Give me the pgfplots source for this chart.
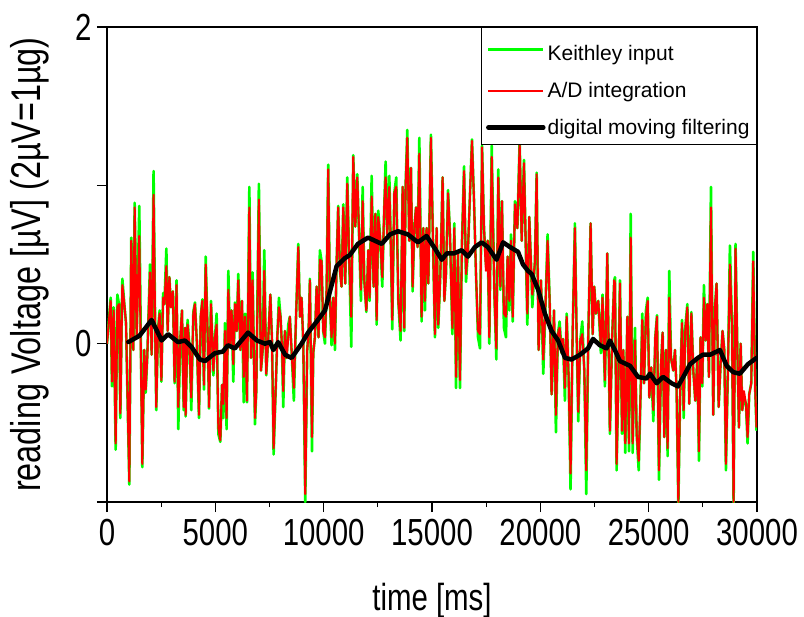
\documentclass[border=0pt]{standalone}
\usepackage{fontspec}
\setmainfont{Liberation Sans}
\newfontfamily\narrowfont[FakeStretch=0.78]{Liberation Sans}
\usepackage{pgfplots}
\usepackage{pgfplotstable}
\pgfplotsset{compat=1.18}

\definecolor{keithley}{RGB}{0,255,0}
\definecolor{adred}{RGB}{255,0,0}

% time [ms], Keithley input, A/D integration
\pgfplotstableread{
x k a
0 0.00 0.00
170 0.29 0.27
230 -0.27 -0.24
308 0.23 0.21
400 -0.67 -0.63
477 0.31 0.23
554 0.25 0.25
615 -0.47 -0.44
708 0.41 0.37
800 0.25 0.25
877 0.13 0.13
1030 -0.89 -0.87
1120 0.67 0.65
1215 -0.04 -0.04
1277 0.89 0.86
1370 0.04 0.04
1490 0.87 0.68
1630 -0.78 -0.76
1720 -0.04 -0.04
1785 -0.31 -0.29
1860 -0.08 -0.08
1985 0.50 0.45
2060 -0.07 -0.07
2150 1.09 0.94
2230 0.00 0.00
2275 -0.42 -0.40
2350 0.08 0.08
2430 0.21 0.19
2510 -0.24 -0.23
2590 0.32 0.29
2650 0.25 0.25
2740 0.60 0.49
2800 0.08 0.08
2880 0.42 0.42
2950 0.23 0.23
3040 0.33 0.33
3120 -0.25 -0.24
3210 0.40 0.37
3290 -0.54 -0.40
3380 0.02 0.02
3460 0.21 0.21
3540 -0.42 -0.40
3610 0.10 0.10
3630 -0.46 -0.45
3720 0.15 0.12
3815 -0.04 -0.04
3890 -0.42 -0.34
3985 0.20 0.19
4060 0.26 0.25
4150 0.00 0.00
4245 -0.47 -0.45
4325 0.17 0.17
4400 0.28 0.27
4475 -0.29 -0.26
4555 0.55 0.50
4645 0.06 0.06
4710 -0.41 -0.40
4800 0.27 0.25
4910 -0.20 -0.17
4985 0.04 0.04
5060 0.19 0.12
5140 -0.57 -0.53
5230 -0.62 -0.61
5310 -0.26 -0.26
5370 -0.47 -0.38
5445 0.13 0.08
5520 -0.54 -0.47
5600 0.46 0.34
5680 0.00 0.00
5750 0.21 0.21
5830 -0.24 -0.13
5905 0.26 0.25
5985 0.08 0.08
6060 0.44 0.40
6155 -0.04 -0.04
6230 0.27 0.27
6310 -0.37 -0.21
6370 0.19 0.17
6460 -0.37 -0.36
6570 0.99 0.86
6645 -0.09 -0.09
6720 0.45 0.40
6830 -0.51 -0.47
6890 -0.30 -0.30
7010 1.01 0.91
7105 -0.17 -0.17
7185 -0.04 -0.04
7260 0.59 0.46
7350 -0.20 -0.19
7445 0.04 0.04
7540 0.31 0.31
7615 0.02 0.02
7690 -0.70 -0.66
7800 -0.23 -0.23
7860 0.04 0.04
7935 0.29 0.23
8010 0.17 0.17
8075 -0.02 -0.02
8135 -0.40 -0.30
8210 0.08 0.08
8290 -0.09 -0.09
8365 0.12 0.04
8440 0.17 0.17
8535 -0.09 -0.09
8625 -0.36 -0.28
8720 0.15 0.15
8830 0.63 0.61
8905 0.17 0.17
8980 0.29 0.29
9060 0.00 0.00
9150 -1.00 -0.95
9240 -0.04 -0.04
9305 0.08 0.08
9365 0.41 0.40
9460 -0.68 -0.59
9520 -0.06 -0.06
9595 0.04 0.04
9675 0.36 0.36
9765 0.04 0.04
9825 0.59 0.53
9905 0.52 0.52
9980 0.08 0.08
10060 0.00 0.04
10135 0.34 0.34
10210 1.13 1.10
10290 0.27 0.27
10365 -0.01 0.04
10440 0.29 0.29
10520 -0.04 0.00
10595 0.50 0.50
10670 0.87 0.86
10750 0.46 0.46
10825 0.36 0.36
10905 0.88 0.86
10995 0.38 0.38
11090 1.05 1.01
11180 0.52 0.52
11275 -0.02 0.17
11365 1.19 1.18
11460 0.74 0.74
11550 1.07 1.05
11720 0.27 0.34
11800 0.99 0.90
11875 0.40 0.40
11970 0.20 0.21
12060 0.59 0.59
12120 0.27 0.29
12215 1.06 0.93
12305 0.36 0.36
12385 0.82 0.82
12445 0.12 0.15
12520 0.84 0.80
12615 0.65 0.65
12705 0.36 0.42
12800 0.88 0.88
12860 1.15 1.05
12935 0.69 0.69
13030 1.06 0.99
13105 0.59 0.59
13165 0.09 0.15
13260 0.95 0.95
13350 1.05 0.99
13445 0.27 0.27
13550 0.02 0.08
13645 0.99 0.99
13720 0.08 0.10
13780 0.99 0.99
13860 1.35 1.30
13950 0.65 0.65
14030 1.11 1.11
14105 0.33 0.36
14185 0.73 0.73
14260 0.86 0.86
14335 0.61 0.61
14415 1.30 1.20
14520 0.14 0.17
14600 0.73 0.73
14675 0.21 0.27
14750 0.73 0.73
14830 0.38 0.38
14950 1.32 1.30
15045 0.65 0.65
15135 0.04 0.06
15215 0.73 0.73
15290 0.10 0.12
15385 0.44 0.44
15490 1.05 1.05
15570 0.27 0.27
15645 0.44 0.44
15740 0.97 0.95
15830 0.69 0.69
15940 0.06 0.10
16030 0.76 0.73
16110 -0.28 -0.21
16200 0.57 0.57
16290 -0.28 -0.23
16385 0.65 0.65
16480 1.12 1.09
16570 0.39 0.44
16660 0.59 0.59
16755 0.95 0.95
16845 1.29 1.28
16940 0.90 0.90
17030 0.44 0.44
17125 0.04 0.08
17215 -0.03 0.06
17310 1.25 1.24
17400 0.73 0.73
17490 0.50 0.46
17570 0.65 0.65
17645 0.00 0.04
17755 1.25 1.18
17880 0.31 0.31
17970 -0.10 -0.03
18060 1.10 1.05
18155 0.34 0.36
18230 0.90 0.90
18320 0.10 0.19
18415 0.04 0.17
18490 0.55 0.55
18570 0.21 0.27
18645 0.69 0.65
18725 0.14 0.17
18830 0.90 0.88
18940 0.73 0.73
19045 1.28 1.26
19140 0.65 0.65
19245 1.16 1.14
19325 0.63 0.63
19400 0.12 0.19
19490 0.80 0.80
19570 0.50 0.50
19630 0.23 0.31
19750 0.52 0.52
19830 1.08 1.07
19920 -0.04 -0.04
20030 0.40 0.40
20135 -0.19 -0.10
20245 0.27 0.27
20335 0.69 0.65
20430 0.27 0.27
20520 -0.32 -0.32
20630 0.21 0.21
20720 -0.56 -0.45
20810 0.06 0.06
20890 0.14 0.10
20980 -0.06 -0.06
21045 0.03 0.03
21135 -0.36 -0.28
21215 0.19 0.17
21305 -0.21 -0.21
21395 -0.92 -0.82
21490 0.06 0.06
21595 0.76 0.73
21675 0.06 0.06
21750 -0.49 -0.43
21845 0.02 0.02
21935 0.14 0.06
22030 -0.17 -0.17
22120 -0.95 -0.80
22215 0.06 0.06
22320 0.76 0.76
22415 0.06 0.06
22490 0.36 0.36
22565 0.19 0.19
22675 0.27 0.27
22795 -0.06 -0.02
22870 0.31 0.29
22980 -0.27 -0.23
23090 0.57 0.57
23210 -0.57 -0.55
23320 0.06 0.06
23410 0.40 0.40
23445 0.42 0.38
23520 -0.80 -0.76
23600 -0.25 -0.25
23675 0.40 0.38
23770 -0.57 -0.55
23830 -0.04 -0.04
23920 -0.69 -0.63
24015 0.17 0.17
24090 -0.68 -0.63
24170 0.82 0.67
24260 -0.69 -0.63
24370 0.10 0.02
24445 -0.57 -0.57
24540 -0.80 -0.74
24630 -0.30 -0.30
24705 0.19 0.15
24785 -0.25 -0.25
24875 0.21 0.17
24955 0.29 0.27
25030 -0.34 -0.34
25120 -0.15 -0.15
25215 -0.49 -0.42
25305 0.04 0.04
25385 0.18 0.17
25475 -0.86 -0.80
25570 -0.13 -0.13
25645 0.07 0.07
25720 -0.59 -0.59
25800 -0.04 -0.04
25875 -0.71 -0.66
25950 0.46 0.29
26030 -0.09 -0.09
26135 -0.17 -0.17
26215 -0.04 -0.04
26290 -0.30 -0.30
26370 -1.02 -1.00
26460 -0.25 -0.25
26540 0.15 0.13
26615 -0.47 -0.42
26690 0.10 0.08
26785 0.25 0.23
26875 -0.38 -0.38
26970 0.20 0.19
27060 -0.17 -0.17
27150 -0.36 -0.36
27245 -0.09 -0.09
27320 -0.74 -0.68
27395 0.04 0.04
27475 -0.27 -0.25
27550 0.37 0.29
27630 0.02 0.02
27705 0.25 0.25
27780 -0.21 -0.21
27875 0.99 0.86
27980 -0.45 -0.45
28060 0.23 0.23
28135 0.38 0.38
28230 -0.40 -0.40
28320 -0.13 -0.13
28410 0.08 0.08
28490 -0.04 -0.04
28565 -0.80 -0.76
28660 -0.15 -0.15
28750 0.62 0.50
28845 0.11 0.11
28920 -1.02 -1.00
29010 0.63 0.60
29090 -0.02 -0.02
29165 -0.53 -0.53
29245 0.00 0.00
29320 -0.42 -0.42
29395 -0.34 -0.30
29490 -0.38 -0.38
29565 -0.63 -0.59
29640 -0.32 -0.32
29735 -0.25 -0.25
29825 0.58 0.52
29920 -0.30 -0.30
29980 -0.55 -0.53
}\noisedata

% digital moving filtering
\pgfplotstableread{
x f
985 0.01
1500 0.05
2060 0.15
2520 0.02
2820 0.06
3280 0.01
3600 0.02
3900 -0.02
4290 -0.10
4520 -0.11
4980 -0.06
5350 -0.05
5580 -0.01
5900 -0.03
6510 0.07
6920 0.02
7290 0.00
7520 0.01
7680 -0.04
7900 0.01
8220 -0.07
8520 -0.09
8980 0.00
9280 0.07
9680 0.14
10060 0.21
10290 0.33
10600 0.49
10980 0.54
11210 0.56
11580 0.63
12050 0.67
12680 0.63
13060 0.69
13430 0.71
13890 0.69
14350 0.64
14750 0.68
15140 0.60
15450 0.53
15680 0.57
16000 0.57
16370 0.59
16660 0.55
16980 0.61
17290 0.64
17580 0.61
17980 0.53
18280 0.64
18600 0.61
18970 0.58
19200 0.50
19430 0.46
19600 0.44
19900 0.34
20210 0.19
20520 0.08
20820 0.02
21140 -0.09
21440 -0.10
21830 -0.07
22200 -0.03
22430 0.03
22750 -0.01
23060 -0.03
23210 0.02
23440 -0.04
23670 -0.11
24140 -0.14
24510 -0.21
24900 -0.22
25060 -0.19
25370 -0.25
25660 -0.21
26060 -0.25
26350 -0.27
26680 -0.19
26910 -0.13
27270 -0.09
27500 -0.07
27830 -0.07
28290 -0.04
28600 -0.14
28900 -0.18
29210 -0.19
29580 -0.13
29980 -0.09
}\filterdata

\begin{document}
\begin{tikzpicture}
\begin{axis}[
    scale only axis,
    width=650pt, height=475pt,
    xmin=0, xmax=30000,
    ymin=-1, ymax=2,
    axis line style={line width=1.2pt},
    xtick={0,5000,...,30000},
    minor xtick={2500,7500,...,27500},
    ytick={-1,0,1,2},
    yticklabels={,0,,2},
    tick align=outside,
    xtick pos=bottom, ytick pos=left,
    major tick length=10pt, minor tick length=5pt,
    tick style={line width=1.2pt, black},
    scaled x ticks=false,
    /pgf/number format/set thousands separator={},
    /pgf/number format/assume math mode=true,
    ticklabel style={font=\narrowfont\fontsize{37.7}{40}\selectfont},
    xticklabel style={anchor=north, yshift=-4pt},
    yticklabel style={anchor=east, xshift=-2pt},
    every axis x label/.style={at={(rel axis cs:0.5,0)}, yshift=-108pt, anchor=base,
        font=\narrowfont\fontsize{37.7}{40}\selectfont},
    every axis y label/.style={at={(rel axis cs:0,0.5)}, xshift=-77pt, rotate=90, anchor=center,
        font=\narrowfont\fontsize{41.5}{44}\selectfont},
    xlabel={time [ms]},
    ylabel={reading Voltage [µV] (2µV=1µg)},
    legend style={at={(rel axis cs:1,1)}, anchor=north east, draw=black, line width=1pt,
        fill=white, font=\fontsize{21}{24}\selectfont, inner xsep=5pt, inner ysep=6.5pt,
        row sep=16pt},
    legend cell align=left,
    legend image code/.code={\draw[#1] (0pt,0pt) -- (55pt,0pt);},
]
\addplot[keithley, line width=2.6pt, line join=round] table[x=x, y=k] {\noisedata};
\addlegendentry{\rule{0pt}{25pt}Keithley input}
\addplot[adred, line width=2.1pt, line join=round] table[x=x, y=a] {\noisedata};
\addlegendentry{A/D integration}
\addplot[black, line width=4.5pt, line join=round, line cap=round] table[x=x, y=f] {\filterdata};
\addlegendentry{digital moving filtering}
\coordinate (sw) at (rel axis cs:0,0);
\coordinate (ne) at (rel axis cs:1,1);
\end{axis}
\pgfresetboundingbox
\path ([xshift=-107pt, yshift=-115pt]sw) rectangle ([xshift=47pt, yshift=27pt]ne);
\end{tikzpicture}
\end{document}
